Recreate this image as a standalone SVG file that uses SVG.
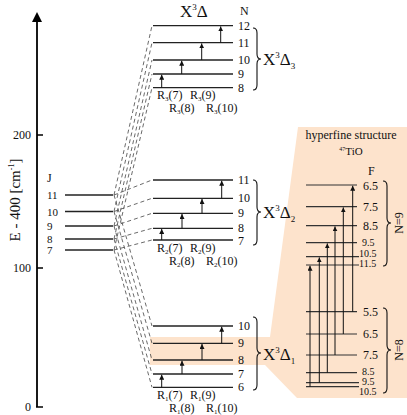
<svg xmlns="http://www.w3.org/2000/svg" width="407" height="415" viewBox="0 0 407 415">
<style>
text{font-family:"Liberation Serif","DejaVu Serif",serif;fill:#111}
.lv{stroke:#222;stroke-width:1.3}
.hf{stroke:#333;stroke-width:1.2}
.ar{stroke:#111;stroke-width:1;marker-end:url(#ah)}
.dl{stroke:#444;stroke-width:0.8;stroke-dasharray:4 3;fill:none}
.br{stroke:#111;stroke-width:1.1;fill:none}
.n{font-size:12px}
.j{font-size:11px}
.s{font-size:10px}
.r{font-size:12px}
.big{font-size:17px}
</style>
<defs>
<marker id="ah" viewBox="0 0 6 6" refX="6" refY="3" markerWidth="5" markerHeight="5" markerUnits="userSpaceOnUse" orient="auto">
<path d="M0,0 L6,3 L0,6 Z" fill="#111"/>
</marker>
<marker id="axh" viewBox="0 0 10 10" refX="8" refY="5" markerWidth="10" markerHeight="10" markerUnits="userSpaceOnUse" orient="auto">
<path d="M0,0 L10,5 L0,10 Z" fill="#000"/>
</marker>
</defs>

<g id="hyperfine-bg">
<polygon points="150,337 270,337 298,127 407,127 407,398 297,398 265,365 150,365" fill="#fde3cc"/>
</g>

<g id="axis">
<line x1="37" y1="407" x2="37" y2="14" stroke="#000" stroke-width="1.8" marker-end="url(#axh)"/>
<line x1="36" y1="407" x2="43" y2="407" stroke="#000" stroke-width="1.5"/>
<line x1="37" y1="268" x2="43" y2="268" stroke="#000" stroke-width="1.5"/>
<line x1="37" y1="135" x2="43" y2="135" stroke="#000" stroke-width="1.5"/>
<text x="31" y="411" class="n" text-anchor="end">0</text>
<text x="31" y="272" class="n" text-anchor="end">100</text>
<text x="31" y="139" class="n" text-anchor="end">200</text>
<text transform="translate(20,200) rotate(-90)" font-size="15" text-anchor="middle">E - 400 [cm<tspan font-size="8" dy="-6">-1</tspan><tspan dy="6">]</tspan></text>
</g>

<g id="J-levels">
<text x="47" y="182" class="n">J</text>
<line class="lv" x1="65" y1="195" x2="113" y2="195"/>
<line class="lv" x1="65" y1="211.5" x2="113" y2="211.5"/>
<line class="lv" x1="65" y1="226" x2="113" y2="226"/>
<line class="lv" x1="65" y1="239" x2="113" y2="239"/>
<line class="lv" x1="65" y1="250" x2="113" y2="250"/>
<text x="47" y="199" class="j">11</text>
<text x="47" y="215.5" class="j">10</text>
<text x="47" y="230" class="j">9</text>
<text x="47" y="242.5" class="j">8</text>
<text x="47" y="254" class="j">7</text>
</g>

<g id="connectors">
<line class="dl" x1="114" y1="195" x2="152" y2="25.7"/>
<line class="dl" x1="114" y1="211.5" x2="152" y2="42.7"/>
<line class="dl" x1="114" y1="226" x2="152" y2="60"/>
<line class="dl" x1="114" y1="239" x2="152" y2="74"/>
<line class="dl" x1="114" y1="250" x2="152" y2="87.7"/>
<line class="dl" x1="114" y1="195" x2="152" y2="180"/>
<line class="dl" x1="114" y1="211.5" x2="152" y2="198.3"/>
<line class="dl" x1="114" y1="226" x2="152" y2="213.3"/>
<line class="dl" x1="114" y1="239" x2="152" y2="228.3"/>
<line class="dl" x1="114" y1="250" x2="152" y2="240"/>
<line class="dl" x1="114" y1="195" x2="152" y2="326"/>
<line class="dl" x1="114" y1="211.5" x2="152" y2="343.3"/>
<line class="dl" x1="114" y1="226" x2="152" y2="360"/>
<line class="dl" x1="114" y1="239" x2="152" y2="374"/>
<line class="dl" x1="114" y1="250" x2="152" y2="387.3"/>
</g>

<g id="X3Delta3">
<text x="180" y="17" class="big">X<tspan font-size="9" dy="-7">3</tspan><tspan dy="7">Δ</tspan></text>
<text x="240" y="15" class="n">N</text>
<line class="lv" x1="153" y1="25.7" x2="233" y2="25.7"/>
<line class="lv" x1="153" y1="42.7" x2="233" y2="42.7"/>
<line class="lv" x1="153" y1="60" x2="233" y2="60"/>
<line class="lv" x1="153" y1="74" x2="233" y2="74"/>
<line class="lv" x1="153" y1="87.7" x2="233" y2="87.7"/>
<text x="238" y="29.7" class="n">12</text>
<text x="238" y="46.7" class="n">11</text>
<text x="238" y="64" class="n">10</text>
<text x="238" y="78" class="n">9</text>
<text x="238" y="91.7" class="n">8</text>
<line class="ar" x1="161.7" y1="87.7" x2="161.7" y2="74.7"/>
<line class="ar" x1="181.7" y1="74" x2="181.7" y2="60.7"/>
<line class="ar" x1="201.7" y1="60" x2="201.7" y2="43.4"/>
<line class="ar" x1="220.7" y1="42.7" x2="220.7" y2="26.4"/>
<text x="157" y="99" class="r">R<tspan font-size="7" dy="2">3</tspan><tspan dy="-2">(7)</tspan></text>
<text x="190" y="99" class="r">R<tspan font-size="7" dy="2">3</tspan><tspan dy="-2">(9)</tspan></text>
<text x="169" y="112" class="r">R<tspan font-size="7" dy="2">3</tspan><tspan dy="-2">(8)</tspan></text>
<text x="206" y="112" class="r">R<tspan font-size="7" dy="2">3</tspan><tspan dy="-2">(10)</tspan></text>
<path class="br" d="M253,28 Q257,28 257,33 L257,54 Q257,59 261,59 Q257,59 257,64 L257,85 Q257,90 253,90"/>
<text x="263" y="65" class="big">X<tspan font-size="9" dy="-7">3</tspan><tspan dy="7">Δ</tspan><tspan font-size="9" dy="4">3</tspan></text>
</g>

<g id="X3Delta2">
<line class="lv" x1="153" y1="180" x2="233" y2="180"/>
<line class="lv" x1="153" y1="198.3" x2="233" y2="198.3"/>
<line class="lv" x1="153" y1="213.3" x2="233" y2="213.3"/>
<line class="lv" x1="153" y1="228.3" x2="233" y2="228.3"/>
<line class="lv" x1="153" y1="240" x2="233" y2="240"/>
<text x="238" y="184" class="n">11</text>
<text x="238" y="202.3" class="n">10</text>
<text x="238" y="217.3" class="n">9</text>
<text x="238" y="231.8" class="n">8</text>
<text x="238" y="244.6" class="n">7</text>
<line class="ar" x1="161.7" y1="240" x2="161.7" y2="229"/>
<line class="ar" x1="182" y1="228.3" x2="182" y2="214"/>
<line class="ar" x1="202" y1="213.3" x2="202" y2="199"/>
<line class="ar" x1="221.7" y1="198.3" x2="221.7" y2="180.7"/>
<text x="157" y="252" class="r">R<tspan font-size="7" dy="2">2</tspan><tspan dy="-2">(7)</tspan></text>
<text x="190" y="252" class="r">R<tspan font-size="7" dy="2">2</tspan><tspan dy="-2">(9)</tspan></text>
<text x="169" y="265" class="r">R<tspan font-size="7" dy="2">2</tspan><tspan dy="-2">(8)</tspan></text>
<text x="206" y="265" class="r">R<tspan font-size="7" dy="2">2</tspan><tspan dy="-2">(10)</tspan></text>
<path class="br" d="M253,180 Q257,180 257,185 L257,207 Q257,212 261,212 Q257,212 257,217 L257,240 Q257,245 253,245"/>
<text x="263" y="218" class="big">X<tspan font-size="9" dy="-7">3</tspan><tspan dy="7">Δ</tspan><tspan font-size="9" dy="4">2</tspan></text>
</g>

<g id="X3Delta1">
<line class="lv" x1="153" y1="326" x2="233" y2="326"/>
<line class="lv" x1="153" y1="343.3" x2="233" y2="343.3"/>
<line class="lv" x1="153" y1="360" x2="233" y2="360"/>
<line class="lv" x1="153" y1="374" x2="233" y2="374"/>
<line class="lv" x1="153" y1="387.3" x2="233" y2="387.3" stroke="#555"/>
<text x="238" y="330" class="n">10</text>
<text x="238" y="347.3" class="n">9</text>
<text x="238" y="364" class="n">8</text>
<text x="238" y="378" class="n">7</text>
<text x="238" y="391.3" class="n">6</text>
<line class="ar" x1="161.7" y1="387.3" x2="161.7" y2="374.7"/>
<line class="ar" x1="182" y1="374" x2="182" y2="360.7"/>
<line class="ar" x1="202" y1="360" x2="202" y2="344"/>
<line class="ar" x1="221.7" y1="343.3" x2="221.7" y2="326.7"/>
<text x="157" y="399" class="r">R<tspan font-size="7" dy="2">1</tspan><tspan dy="-2">(7)</tspan></text>
<text x="190" y="399" class="r">R<tspan font-size="7" dy="2">1</tspan><tspan dy="-2">(9)</tspan></text>
<text x="169" y="412" class="r">R<tspan font-size="7" dy="2">1</tspan><tspan dy="-2">(8)</tspan></text>
<text x="206" y="412" class="r">R<tspan font-size="7" dy="2">1</tspan><tspan dy="-2">(10)</tspan></text>
<path class="br" d="M253,317 Q257,317 257,322 L257,348 Q257,353 261,353 Q257,353 257,358 L257,385 Q257,390 253,390"/>
<text x="263" y="360" class="big">X<tspan font-size="9" dy="-7">3</tspan><tspan dy="7">Δ</tspan><tspan font-size="9" dy="4">1</tspan></text>
</g>

<g id="hyperfine">
<text x="351" y="139" font-size="12" text-anchor="middle">hyperfine structure</text>
<text x="351" y="155" font-size="11" text-anchor="middle"><tspan font-size="6" dy="-4">47</tspan><tspan dy="4">TiO</tspan></text>
<text x="368" y="175" class="n">F</text>
<line class="hf" x1="306" y1="185" x2="357" y2="185"/>
<line class="hf" x1="306" y1="206.7" x2="357" y2="206.7"/>
<line class="hf" x1="306" y1="225.7" x2="357" y2="225.7"/>
<line class="hf" x1="306" y1="242.7" x2="357" y2="242.7"/>
<line class="hf" x1="306" y1="256.7" x2="359" y2="256.7"/>
<line class="hf" x1="306" y1="265" x2="359" y2="265"/>
<text x="363" y="189.5" class="n">6.5</text>
<text x="363" y="210.7" class="n">7.5</text>
<text x="363" y="229.7" class="n">8.5</text>
<text x="362" y="246" class="s">9.5</text>
<text x="359" y="256.5" class="s">10.5</text>
<text x="359" y="267" class="s">11.5</text>
<line class="hf" x1="306" y1="311.7" x2="357" y2="311.7"/>
<line class="hf" x1="306" y1="334" x2="357" y2="334"/>
<line class="hf" x1="306" y1="355" x2="357" y2="355"/>
<line class="hf" x1="306" y1="372.7" x2="357" y2="372.7"/>
<line class="hf" x1="306" y1="382.7" x2="359" y2="382.7"/>
<line class="hf" x1="306" y1="386.7" x2="359" y2="386.7"/>
<text x="363" y="315.7" class="n">5.5</text>
<text x="363" y="338" class="n">6.5</text>
<text x="363" y="359" class="n">7.5</text>
<text x="362" y="375" class="s">8.5</text>
<text x="362" y="385" class="s">9.5</text>
<text x="359" y="395" class="s">10.5</text>
<line class="ar" x1="310" y1="386.7" x2="310" y2="265.7"/>
<line class="ar" x1="319.3" y1="382.7" x2="319.3" y2="257.4"/>
<line class="ar" x1="327.3" y1="372.7" x2="327.3" y2="243.4"/>
<line class="ar" x1="335" y1="355" x2="335" y2="226.4"/>
<line class="ar" x1="343.3" y1="334" x2="343.3" y2="207.4"/>
<line class="ar" x1="352.7" y1="311.7" x2="352.7" y2="185.7"/>
<path class="br" d="M383,181 Q387,181 387,186 L387,218 Q387,223 391,223 Q387,223 387,228 L387,261 Q387,266 383,266"/>
<text transform="translate(403,223) rotate(-90)" font-size="12" text-anchor="middle">N=9</text>
<path class="br" d="M383,308 Q387,308 387,313 L387,345 Q387,350 391,350 Q387,350 387,355 L387,388 Q387,393 383,393"/>
<text transform="translate(403,350) rotate(-90)" font-size="12" text-anchor="middle">N=8</text>
</g>
</svg>
